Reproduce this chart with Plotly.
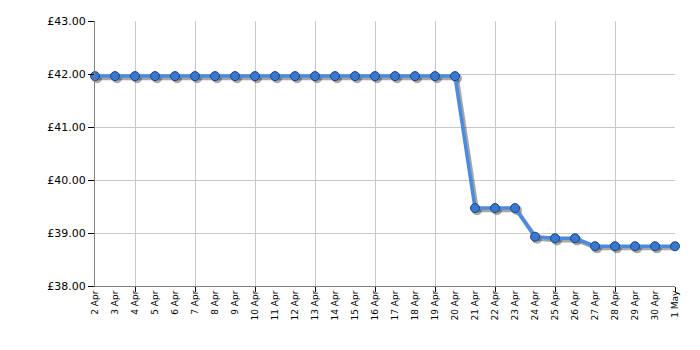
import plotly.graph_objects as go
import pandas as pd

dates = pd.date_range("2024-04-02", "2024-05-01", freq="D")
prices = [41.96]*19 + [39.47, 39.47, 39.47, 38.93, 38.90, 38.90, 38.75, 38.75, 38.75, 38.75, 38.75]
y_ticks = [38, 39, 40, 41, 42, 43]
y_labels = ["£%.2f" % v for v in y_ticks]

x0, x1 = dates[0], dates[-1]
y0, y1 = 38, 43

fig = go.Figure()
# shadow trace on primary (hidden, offset) axes -> drawn first
fig.add_trace(go.Scatter(x=dates, y=prices, mode="lines+markers",
                         line=dict(color="rgba(60,60,60,0.45)", width=4),
                         marker=dict(size=10, color="rgba(60,60,60,0.45)"),
                         hoverinfo="skip", cliponaxis=False, showlegend=False))
# main trace on the visible axes
fig.add_trace(go.Scatter(x=dates, y=prices, mode="lines+markers", xaxis="x2", yaxis="y2",
                         line=dict(color="#4a8ae0", width=3.5),
                         marker=dict(size=9, color="#3a78d0", line=dict(color="#1c4680", width=1)),
                         cliponaxis=False, showlegend=False))

day = 86400000
sx = 0.1 * day
sy = 0.04
fig.update_layout(
    width=700, height=350,
    margin=dict(l=95, r=25, t=21, b=64),
    paper_bgcolor="white", plot_bgcolor="white",
    font=dict(family="DejaVu Sans, Verdana", color="black"),
    xaxis=dict(type="date", range=[x0 - pd.Timedelta(milliseconds=sx), x1 - pd.Timedelta(milliseconds=sx)],
               showticklabels=False, showgrid=False, ticks="", showline=False, zeroline=False),
    yaxis=dict(range=[y0 + sy, y1 + sy], showticklabels=False, showgrid=False, ticks="",
               showline=False, zeroline=False),
    xaxis2=dict(type="date", overlaying="x", anchor="y2", side="bottom", range=[x0, x1],
                tickvals=list(dates), tickformat="%-d %b",
                tickangle=-90, tickfont=dict(size=9), showgrid=False, ticks="",
                showline=True, linecolor="#808080", linewidth=1, zeroline=False,
                minor=dict(tick0="2024-04-04", dtick=3*day, showgrid=True, gridcolor="#c8c8c8",
                           ticks="outside", ticklen=5, tickcolor="black")),
    yaxis2=dict(overlaying="y", anchor="x2", side="left", range=[y0, y1], tickvals=y_ticks,
                ticktext=y_labels, tickfont=dict(size=11),
                showgrid=True, gridcolor="#c8c8c8", ticks="outside", ticklen=6, tickcolor="black",
                showline=True, linecolor="#808080", zeroline=False),
)
fig.write_html("out.html")
